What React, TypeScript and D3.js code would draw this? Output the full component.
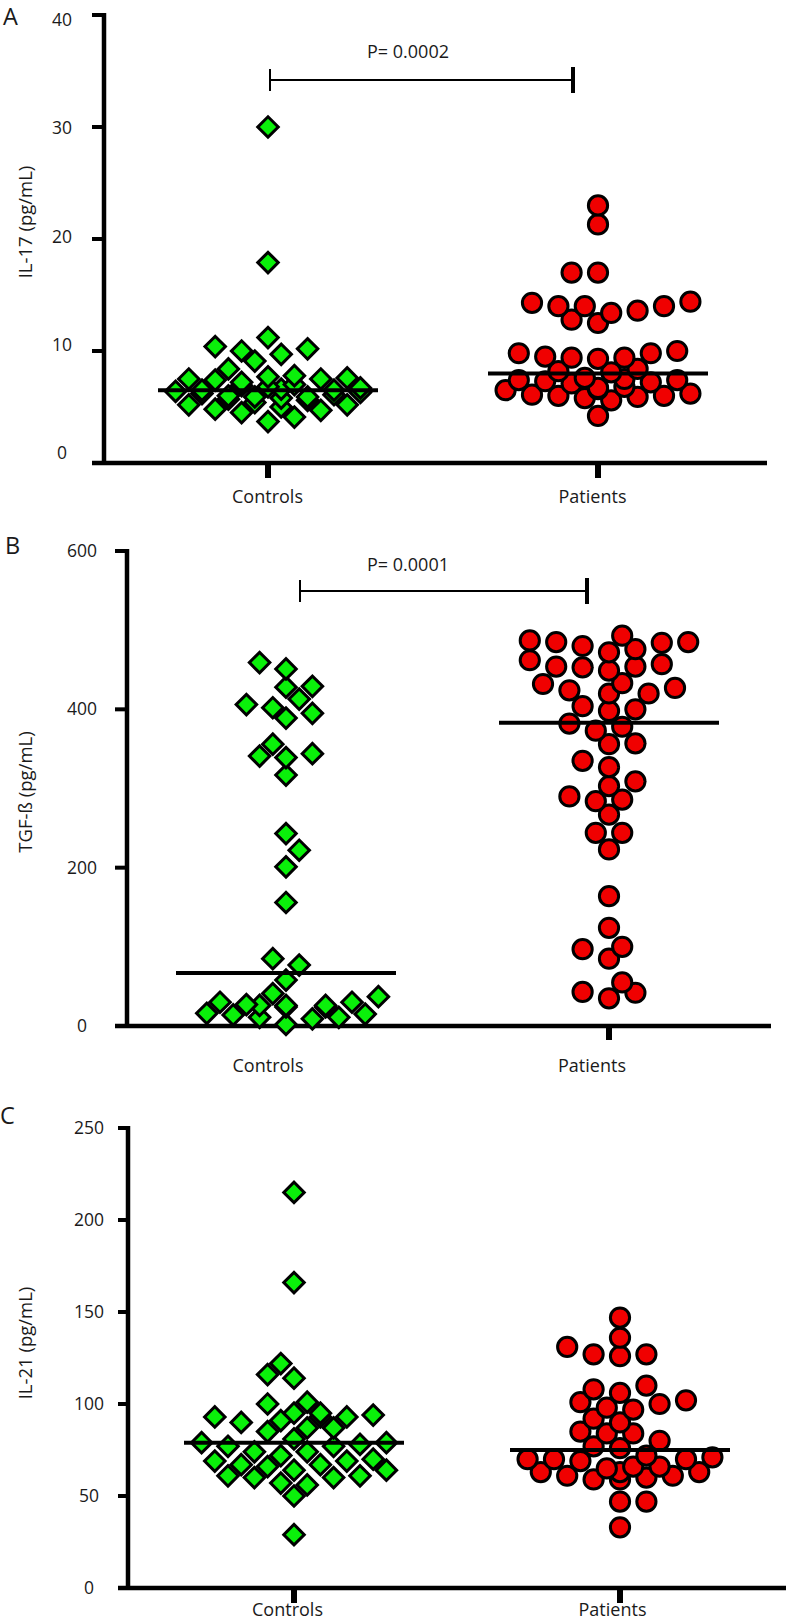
import React from "react";
import * as d3 from "d3";

// ---- data ----
const CATEGORIES = ["Controls", "Patients"];
const PANEL_LETTERS = ["A", "B", "C"];
const Y_TITLES = ["IL-17 (pg/mL)", "TGF-ß (pg/mL)", "IL-21 (pg/mL)"];
const P_LABELS = ["P= 0.0002", "P= 0.0001", null];

const IL17_TICKS = [0, 10, 20, 30, 40];
const TGFB_TICKS = [0, 200, 400, 600];
const IL21_TICKS = [0, 50, 100, 150, 200, 250];

const IL17_CONTROLS = [
  30.0, 17.9, 11.2, 10.4, 10.2, 10.0, 9.7, 9.1, 8.4, 7.8, 7.7, 7.6, 7.5, 7.5,
  7.4, 7.2, 7.0, 6.9, 6.8, 6.7, 6.6, 6.5, 6.5, 6.4, 6.3, 6.2, 6.1, 6.0, 5.9,
  5.9, 5.8, 5.7, 5.6, 5.4, 5.2, 5.2, 5.0, 4.8, 4.7, 4.5, 4.1, 3.7,
];
const IL17_PATIENTS = [
  23.0, 21.3, 17.0, 17.0, 14.4, 14.3, 14.0, 14.0, 14.0, 13.6, 13.4, 12.8, 12.5,
  10.0, 9.8, 9.8, 9.5, 9.4, 9.4, 9.3, 8.4, 8.2, 8.1, 7.6, 7.5, 7.4, 7.4, 7.3,
  7.2, 7.1, 6.8, 6.7, 6.6, 6.5, 6.2, 6.1, 6.0, 6.0, 5.9, 5.8, 5.6, 4.2,
];
const IL17_MEDIANS = [6.5, 8.0];

const TGFB_CONTROLS = [
  459, 451, 429, 428, 413, 406, 402, 395, 389, 356, 344, 341, 339, 317, 243,
  222, 201, 156, 85, 77, 58, 41, 37, 30, 30, 27, 26, 26, 26, 24, 24, 16, 15,
  14, 11, 11, 9, 2,
];
const TGFB_PATIENTS = [
  493, 487, 485, 485, 484, 480, 476, 472, 462, 457, 454, 454, 453, 449, 433,
  432, 427, 424, 420, 420, 404, 400, 398, 382, 378, 373, 357, 356, 335, 327,
  309, 303, 290, 286, 284, 267, 244, 244, 223, 164, 124, 100, 97, 85, 55, 43,
  42, 35,
];
const TGFB_MEDIANS = [67, 383];

const IL21_CONTROLS = [
  215, 166, 122, 116, 114, 101, 100, 95, 95, 94, 93, 93, 93, 91, 90, 87, 87, 85,
  81, 79, 79, 78, 77, 77, 74, 74, 72, 70, 69, 69, 67, 67, 66, 64, 64, 61, 61,
  60, 60, 57, 56, 50, 29,
];
const IL21_PATIENTS = [
  147, 136, 131, 127, 127, 126, 110, 108, 106, 102, 101, 100, 98, 97, 92, 90,
  85, 84, 84, 80, 77, 76, 72, 71, 70, 70, 70, 69, 66, 66, 65, 63, 63, 63, 61,
  61, 60, 59, 59, 47, 47, 33,
];
const IL21_MEDIANS = [79, 75];

// ---- layout ----
const FONT = "'Open Sans', 'DejaVu Sans', sans-serif";
const GREEN = "#0af00a";
const RED = "#f00000";

const panels = [
  {
    ticks: IL17_TICKS,
    groups: [IL17_CONTROLS, IL17_PATIENTS],
    medians: IL17_MEDIANS,
    letter: { x: 3, y: 25 },
    axisX: 104,
    top: 15,
    bottom: 463,
    tickLeft: 92,
    right: 767,
    cols: [268, 598],
    catTick: [true, true],
    catTickLen: 15,
    tickLabelX: 62,
    tickLabelRange: [453, 20],
    catLabelX: [267.5, 592.5],
    catLabelY: 503,
    yTitle: { x: 32, y: 222 },
    bracket: { y: 80, x1: 270, x2: 573, tx: 408, ty: 58 },
  },
  {
    ticks: TGFB_TICKS,
    groups: [TGFB_CONTROLS, TGFB_PATIENTS],
    medians: TGFB_MEDIANS,
    letter: { x: 5, y: 554 },
    axisX: 127,
    top: 551,
    bottom: 1026,
    tickLeft: 115,
    right: 771,
    cols: [286, 609],
    catTick: [false, true],
    catTickLen: 14,
    tickLabelX: 82,
    tickLabelRange: null,
    catLabelX: [268, 592],
    catLabelY: 1072,
    yTitle: { x: 32, y: 792 },
    bracket: { y: 591, x1: 300, x2: 587, tx: 408, ty: 571 },
  },
  {
    ticks: IL21_TICKS,
    groups: [IL21_CONTROLS, IL21_PATIENTS],
    medians: IL21_MEDIANS,
    letter: { x: 0, y: 1124 },
    axisX: 128,
    top: 1128,
    bottom: 1588,
    tickLeft: 118,
    right: 786,
    cols: [294, 620],
    catTick: [true, true],
    catTickLen: 15,
    tickLabelX: 89,
    tickLabelRange: null,
    catLabelX: [287.5, 612.5],
    catLabelY: 1616,
    yTitle: { x: 32, y: 1343 },
    bracket: null,
  },
];

// Prism-like column scatter: points snap to a half-symbol grid and
// move outwards until they clear their neighbours
function columnScatter(values: number[], y: (v: number) => number) {
  const dSame = 17;
  const dAdj = 10;
  const maxK = 7;
  const pts = values.map((v) => ({ v, y: y(v) })).sort((a, b) => a.v - b.v);
  const placed: { v: number; y: number; k: number }[] = [];
  let balance = 0;
  const conflicts = (k: number, py: number) =>
    placed.filter((q) => {
      const dk = Math.abs(q.k - k);
      const dy = Math.abs(q.y - py);
      if (dk === 0) return dy < dSame;
      if (dk === 1) return dy < dAdj;
      return false;
    }).length;
  for (const p of pts) {
    let best: number | null = null;
    for (let m = 0; m <= maxK && best === null; m++) {
      const cands = m === 0 ? [0] : balance > 0 ? [-m, m] : [m, -m];
      for (const k of cands) {
        if (conflicts(k, p.y) === 0) {
          best = k;
          break;
        }
      }
    }
    if (best === null) {
      let bestC = Infinity;
      for (let m = 0; m <= maxK; m++) {
        for (const k of m === 0 ? [0] : [m, -m]) {
          const c = conflicts(k, p.y);
          if (c < bestC) {
            bestC = c;
            best = k;
          }
        }
      }
    }
    balance += Math.sign(best as number);
    placed.push({ ...p, k: best as number });
  }
  return placed;
}

const diamondPath = d3.symbol(d3.symbolSquare, 210)() ?? "";
const circlePath = d3.symbol(d3.symbolCircle, 290)() ?? "";

function Panel({ p, idx }: { p: (typeof panels)[number]; idx: number }) {
  const maxTick = d3.max(p.ticks) as number;
  const y = d3.scaleLinear().domain([0, maxTick]).range([p.bottom, p.top]);
  const yLabel = d3
    .scaleLinear()
    .domain([0, maxTick])
    .range(p.tickLabelRange ?? [p.bottom, p.top]);
  const x = d3.scalePoint<string>().domain(CATEGORIES).range(p.cols as [number, number]);
  const step = 13.2;
  const halfMedian = 110;

  return (
    <g>
      <text x={p.letter.x} y={p.letter.y} fontSize={23.5} fill="#1a1a1a">
        {PANEL_LETTERS[idx]}
      </text>
      <text
        transform={`translate(${p.yTitle.x},${p.yTitle.y}) rotate(-90)`}
        textAnchor="middle"
        fontSize={18.5}
        fill="#1a1a1a"
      >
        {Y_TITLES[idx]}
      </text>

      {/* y axis */}
      <line x1={p.axisX} x2={p.axisX} y1={p.top - 2} y2={p.bottom + 2} stroke="#000" strokeWidth={4.5} />
      {p.ticks.map((t) => (
        <g key={t}>
          <line x1={p.tickLeft} x2={p.axisX} y1={y(t)} y2={y(t)} stroke="#000" strokeWidth={4} />
          <text x={p.tickLabelX} y={yLabel(t)} dy="0.35em" textAnchor="middle" fontSize={17.5} fill="#1a1a1a">
            {t}
          </text>
        </g>
      ))}

      {/* x axis */}
      <line x1={p.tickLeft} x2={p.right} y1={p.bottom} y2={p.bottom} stroke="#000" strokeWidth={4.5} />
      {CATEGORIES.map((c, i) => (
        <g key={c}>
          {p.catTick[i] && (
            <line
              x1={x(c)}
              x2={x(c)}
              y1={p.bottom}
              y2={p.bottom + p.catTickLen}
              stroke="#000"
              strokeWidth={6}
            />
          )}
          <text x={p.catLabelX[i]} y={p.catLabelY} textAnchor="middle" fontSize={18} fill="#1a1a1a">
            {c}
          </text>
        </g>
      ))}

      {/* points */}
      {p.groups.map((vals, gi) => {
        const cx = x(CATEGORIES[gi]) as number;
        const pts = columnScatter(vals, y);
        return (
          <g key={gi}>
            {pts.map((d, i) => (
              <path
                key={i}
                d={gi === 0 ? diamondPath : circlePath}
                transform={`translate(${cx + d.k * step},${d.y})${gi === 0 ? " rotate(45)" : ""}`}
                fill={gi === 0 ? GREEN : RED}
                stroke="#000"
                strokeWidth={3}
              />
            ))}
          </g>
        );
      })}

      {/* medians */}
      {p.medians.map((m, gi) => {
        const cx = x(CATEGORIES[gi]) as number;
        return (
          <line
            key={gi}
            x1={cx - halfMedian}
            x2={cx + halfMedian}
            y1={y(m)}
            y2={y(m)}
            stroke="#000"
            strokeWidth={4}
          />
        );
      })}

      {/* significance bracket */}
      {p.bracket && (
        <g>
          <line x1={p.bracket.x1} x2={p.bracket.x2} y1={p.bracket.y} y2={p.bracket.y} stroke="#000" strokeWidth={2} />
          <line x1={p.bracket.x1} x2={p.bracket.x1} y1={p.bracket.y - 11} y2={p.bracket.y + 11} stroke="#000" strokeWidth={2} />
          <line x1={p.bracket.x2} x2={p.bracket.x2} y1={p.bracket.y - 13} y2={p.bracket.y + 13} stroke="#000" strokeWidth={4} />
          <text x={p.bracket.tx} y={p.bracket.ty} textAnchor="middle" fontSize={18} fill="#1a1a1a">
            {P_LABELS[idx]}
          </text>
        </g>
      )}
    </g>
  );
}

export default function App() {
  return (
    <svg
      width={786}
      height={1623}
      style={{ position: "absolute", left: 0, top: 0, background: "#fff" }}
      fontFamily={FONT}
    >
      <rect width={786} height={1623} fill="#fff" />
      {panels.map((p, i) => (
        <Panel key={i} p={p} idx={i} />
      ))}
    </svg>
  );
}
